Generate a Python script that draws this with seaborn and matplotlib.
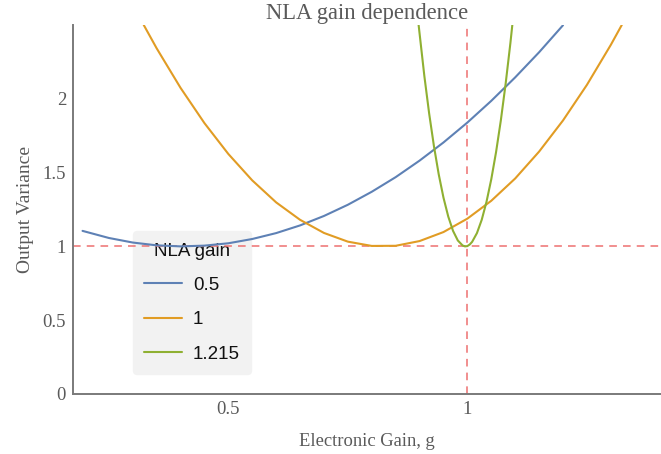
import matplotlib
matplotlib.use("Agg")
import matplotlib.pyplot as plt
import seaborn as sns
import pandas as pd

# ---- data ----
nla_gains = ["0.5", "1", "1.215"]

g_05 = [0.195, 0.25, 0.30, 0.35, 0.40, 0.45, 0.50, 0.55, 0.60, 0.65, 0.70, 0.75,
        0.80, 0.85, 0.90, 0.95, 1.00, 1.05, 1.10, 1.15, 1.20]
v_05 = [1.105, 1.057, 1.026, 1.007, 1.000, 1.005, 1.021, 1.050, 1.090, 1.142, 1.206,
        1.282, 1.370, 1.469, 1.581, 1.704, 1.839, 1.986, 2.145, 2.315, 2.498]

g_1 = [0.323, 0.35, 0.40, 0.45, 0.50, 0.55, 0.60, 0.65, 0.70, 0.75, 0.80, 0.85,
       0.90, 0.95, 1.00, 1.05, 1.10, 1.15, 1.20, 1.25, 1.30, 1.323]
v_1 = [2.500, 2.342, 2.074, 1.835, 1.626, 1.447, 1.298, 1.180, 1.091, 1.032, 1.003,
       1.004, 1.036, 1.097, 1.188, 1.309, 1.460, 1.642, 1.853, 2.094, 2.365, 2.500]

g_1215 = [0.898, 0.91, 0.92, 0.93, 0.94, 0.95, 0.96, 0.97, 0.98, 0.99, 0.995, 1.00,
          1.005, 1.01, 1.02, 1.03, 1.04, 1.05, 1.06, 1.07, 1.08, 1.09, 1.094]
v_1215 = [2.500, 2.154, 1.901, 1.680, 1.489, 1.330, 1.202, 1.105, 1.040, 1.006, 1.000,
          1.002, 1.013, 1.031, 1.090, 1.180, 1.302, 1.455, 1.639, 1.854, 2.101, 2.378, 2.500]

x_ticks = [0.5, 1.0]
x_tick_labels = ["0.5", "1"]
y_ticks = [0, 0.5, 1, 1.5, 2]
y_tick_labels = ["0", "0.5", "1", "1.5", "2"]

ref_g = 1.0
ref_v = 1.0

colors = ["#5e81b5", "#e19c24", "#8fb032"]

df = pd.concat([
    pd.DataFrame({"g": g_05, "v": v_05, "NLA gain": nla_gains[0]}),
    pd.DataFrame({"g": g_1, "v": v_1, "NLA gain": nla_gains[1]}),
    pd.DataFrame({"g": g_1215, "v": v_1215, "NLA gain": nla_gains[2]}),
], ignore_index=True)

sns.set_style("white")
plt.rcParams["font.family"] = ["Liberation Serif", "DejaVu Serif"]

fig = plt.figure(figsize=(6.61, 4.54), dpi=100)
ax = fig.add_axes([0.1104, 0.1322, 0.8896, 0.8128])

gray = "#5a5a5a"
red = "#ee7070"
ax.axhline(ref_v, color=red, lw=1.1, ls=(0, (5, 4)), zorder=1.5)
ax.axvline(ref_g, color=red, lw=1.1, ls=(0, (5, 4)), zorder=1.5)

sns.lineplot(data=df, x="g", y="v", hue="NLA gain", hue_order=nla_gains,
             palette=colors, linewidth=1.5, sort=False, estimator=None, ax=ax,
             zorder=3)

ax.set_xlim(0.175, 1.405)
ax.set_ylim(0, 2.5)
ax.set_xticks(x_ticks)
ax.set_xticklabels(x_tick_labels)
ax.set_yticks(y_ticks)
ax.set_yticklabels(y_tick_labels)
ax.tick_params(direction="in", length=4, width=1, colors="#777777",
               labelcolor=gray, labelsize=13.5, pad=5)

for s in ["top", "right"]:
    ax.spines[s].set_visible(False)
for s in ["left", "bottom"]:
    ax.spines[s].set_color("#7a7a7a")
    ax.spines[s].set_linewidth(1.4)

ax.set_title("NLA gain dependence", fontsize=16.3, color=gray, pad=4)
ax.set_xlabel("Electronic Gain, g", fontsize=13.3, color=gray, labelpad=11)
ax.set_ylabel("Output Variance", fontsize=14, color=gray, labelpad=6)

leg = ax.legend(title="NLA gain", loc="lower left", bbox_to_anchor=(0.102, 0.054),
                borderaxespad=0, frameon=True, fancybox=True, framealpha=1,
                facecolor="#f2f2f2", edgecolor="#f2f2f2", handlelength=2.0,
                labelspacing=0.92, borderpad=0.6, handletextpad=0.6,
                prop={"family": ["Liberation Sans", "DejaVu Sans"], "size": 13.5},
                title_fontproperties={"family": ["Liberation Sans", "DejaVu Sans"], "size": 13.5})
leg.set_zorder(1)
for text in leg.get_texts():
    text.set_color("#111111")
leg.get_title().set_color("#111111")
for line in leg.get_lines():
    line.set_linewidth(1.5)

fig.savefig("out.png", dpi=100)
